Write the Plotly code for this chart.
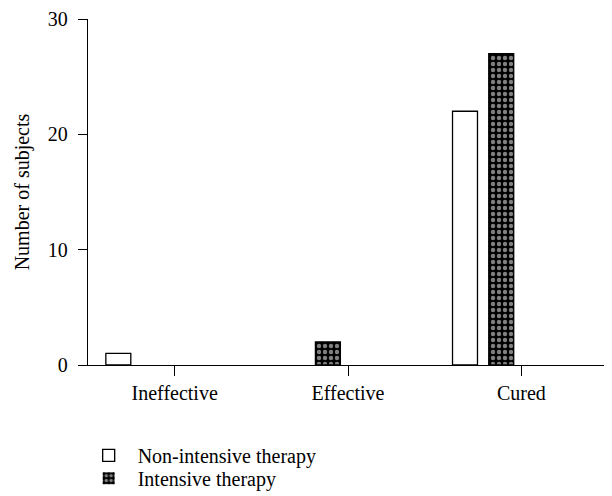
import plotly.graph_objects as go

categories = ["Ineffective", "Effective", "Cured"]
non_intensive = [1, 0, 22]
intensive = [0, 2, 27]
series_names = ["Non-intensive therapy", "Intensive therapy"]
y_ticks = [0, 10, 20, 30]

FONT = "Liberation Serif, Times New Roman, serif"


def edge_widths(values, w=1.3):
    return [w if v else 0 for v in values]


fig = go.Figure()
fig.add_trace(go.Bar(
    x=categories, y=non_intensive, name=series_names[0],
    width=0.144, offset=-0.397, legend="legend",
    marker=dict(color="white", line=dict(color="black", width=edge_widths(non_intensive))),
))
fig.add_trace(go.Bar(
    x=categories, y=intensive, name=series_names[1],
    width=0.144, offset=-0.188, legend="legend2",
    marker=dict(color="black", line=dict(color="black", width=edge_widths(intensive)),
                pattern=dict(shape=".", fgcolor="white", bgcolor="black",
                             size=6, solidity=0.42, fillmode="overlay")),
))

legend_common = dict(xanchor="left", yanchor="middle", x=-0.016,
                     font=dict(family=FONT, size=20, color="black"),
                     itemwidth=48, bgcolor="rgba(0,0,0,0)")

fig.update_layout(
    width=612, height=496,
    margin=dict(l=80, r=12, t=11, b=139, autoexpand=False),
    barmode="overlay",
    plot_bgcolor="white", paper_bgcolor="white",
    font=dict(family=FONT, size=20, color="black"),
    showlegend=True,
    legend=dict(y=-0.261, **legend_common),
    legend2=dict(y=-0.327, **legend_common),
)
fig.update_xaxes(
    type="category", range=[-0.5, 2.5],
    showline=True, linecolor="black", linewidth=1.3,
    ticks="outside", ticklen=10, tickwidth=1.3, tickcolor="black",
    tickfont=dict(family=FONT, size=20), showgrid=False, zeroline=False,
)
fig.update_yaxes(
    range=[0, 30], tickvals=y_ticks,
    showline=True, linecolor="black", linewidth=1.3,
    ticks="outside", ticklen=9, tickwidth=1.3, tickcolor="black",
    ticklabelstandoff=6,
    tickfont=dict(family=FONT, size=20), showgrid=False, zeroline=False,
    title=dict(text="Number of subjects", font=dict(family=FONT, size=20), standoff=12),
)

fig.write_html("out.html")
